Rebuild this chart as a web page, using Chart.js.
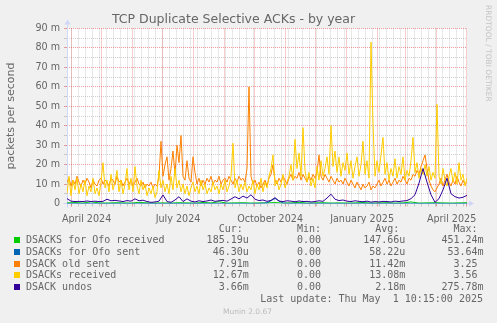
<!DOCTYPE html>
<html>
<head>
<meta charset="utf-8">
<title>TCP Duplicate Selective ACKs - by year</title>
<script src="https://cdn.jsdelivr.net/npm/chart.js@4"></script>
<style>
  html, body { margin: 0; padding: 0; background: #f0f0f0; }
  #wrap { position: relative; width: 497px; height: 323px; overflow: hidden; }
  #graph { position: absolute; left: 0; top: 0; }
  .line { position: absolute; white-space: pre; color: #666; font: 10px "DejaVu Sans Mono", monospace; line-height: 12px; }
  .swatch { position: absolute; width: 6px; height: 6px; }
  #stamp { position: absolute; left: 0; width: 495px; top: 307px; text-align: center; color: #bbb; font: 7.5px "DejaVu Sans", sans-serif; line-height: 10px; }
  #side { position: absolute; left: 483px; top: 5px; writing-mode: vertical-rl; color: #c4c4c4; font: 7.5px "DejaVu Sans", sans-serif; line-height: 10px; }
</style>
</head>
<body>
<div id="wrap">
  <canvas id="graph" width="497" height="323"></canvas>
  <div id="legend"></div>
  <div id="side">RRDTOOL / TOBI OETIKER</div>
  <div id="stamp">Munin 2.0.67</div>
</div>
<script>
// series, colours and the numbers printed in the table under the graph
const seriesNames = ['DSACKS for Ofo received', 'DSACKs for Ofo sent', 'DSACK old sent', 'DSACKs received', 'DSACK undos'];
const seriesColors = ['#00CC00', '#0066B3', '#FF8000', '#FFCC00', '#330099'];
const curText = ['185.19u', '46.30u', '7.91m', '12.67m', '3.66m'];
const minText = ['0.00', '0.00', '0.00', '0.00', '0.00'];
const avgText = ['147.66u', '58.22u', '11.42m', '13.08m', '2.18m'];
const maxText = ['451.24m', '53.64m', '3.25', '3.56', '275.78m'];

// y axis, in milli-packets per second
const yTickValues = [0, 10, 20, 30, 40, 50, 60, 70, 80, 90];
const yTickLabels = ['0', '10 m', '20 m', '30 m', '40 m', '50 m', '60 m', '70 m', '80 m', '90 m'];
const yMinorValues = [5, 15, 25, 35, 45, 55, 65, 75, 85];

// x axis: 400 days ending Thu May 1 2025 10:15
const xTickLabels = ['April 2024', 'July 2024', 'October 2024', 'January 2025', 'April 2025'];
const xLabelMonths = [[2024, 3], [2024, 6], [2024, 9], [2025, 0], [2025, 3]];

// samples (milli) - orange and yellow every 2 days, purple every 4, green/blue every 8
const oldSent = [
  11, 13, 9, 12, 10, 14, 11, 9, 12, 10, 13, 11, 8, 12, 10, 9, 12, 13, 10, 12,
  11, 9, 13, 12, 10, 14, 11, 12, 9, 11, 13, 10, 12, 9, 11, 13, 10, 9, 11, 8,
  10, 9, 11, 8, 10, 9, 14, 32, 14, 20, 24, 12, 18, 27, 15, 30, 21, 35, 14, 12,
  22, 13, 11, 24, 16, 10, 13, 9, 12, 10, 13, 11, 14, 10, 12, 11, 14, 10, 12, 13,
  11, 14, 12, 10, 13, 11, 14, 12, 13, 11, 18, 60, 14, 10, 12, 9, 11, 8, 10, 12,
  9, 13, 15, 20, 12, 10, 13, 11, 14, 12, 10, 13, 15, 12, 14, 13, 16, 12, 15, 13,
  11, 14, 12, 15, 13, 16, 25, 14, 12, 15, 13, 11, 14, 12, 10, 13, 11, 12, 10, 13,
  11, 9, 12, 10, 8, 11, 9, 7, 10, 8, 9, 11, 7, 9, 8, 10, 12, 9, 11, 13,
  10, 12, 9, 11, 13, 10, 12, 11, 14, 12, 10, 13, 12, 15, 14, 17, 15, 19, 22, 25,
  18, 12, 9, 7, 6, 8, 10, 13, 9, 12, 15, 11, 9, 12, 10, 14, 11, 9, 12, 10,
  11
];
const received = [
  5, 14, 4, 12, 7, 13, 5, 10, 6, 12, 4, 9, 6, 13, 5, 8, 4, 11, 21, 8,
  12, 6, 15, 7, 11, 17, 6, 12, 5, 10, 18, 7, 13, 6, 19, 9, 5, 12, 7, 10,
  4, 8, 5, 9, 3, 6, 17, 8, 12, 6, 10, 5, 14, 7, 18, 8, 12, 6, 10, 5,
  9, 4, 8, 11, 6, 9, 5, 12, 7, 10, 5, 8, 6, 11, 7, 9, 5, 10, 7, 12,
  6, 9, 14, 31, 8, 12, 6, 10, 7, 11, 6, 9, 7, 12, 5, 10, 7, 13, 6, 11,
  8, 14, 18, 25, 9, 12, 7, 10, 15, 8, 11, 14, 20, 12, 33, 18, 26, 14, 39, 17,
  11, 16, 9, 13, 8, 19, 12, 22, 14, 18, 24, 15, 40, 19, 27, 16, 24, 14, 21, 17,
  26, 15, 22, 13, 19, 24, 14, 20, 32, 15, 22, 13, 83, 41, 14, 22, 16, 25, 34, 15,
  21, 12, 18, 14, 23, 13, 19, 15, 24, 12, 17, 14, 22, 34, 16, 21, 13, 18, 15, 20,
  14, 19, 12, 16, 13, 51, 14, 10, 18, 12, 9, 14, 18, 11, 16, 10, 21, 12, 15, 9,
  13
];
const undos = [
  2.5, 1.2, 1.0, 1.1, 1.0, 1.3, 1.0, 1.2, 1.0, 1.1, 2.2, 1.4, 1.6, 1.3, 1.0, 1.5, 1.2, 2.4, 1.4, 1.7,
  1.0, 0.6, 0.8, 1.2, 4.4, 1.0, 0.6, 1.8, 3.5, 1.0, 2.4, 1.2, 0.8, 1.4, 1.0, 1.3, 1.8, 1.1, 1.4, 1.6,
  1.2, 2.3, 3.5, 2.4, 3.8, 2.8, 4.5, 2.2, 1.5, 1.8, 1.1, 1.6, 3.0, 1.2, 1.0, 1.4, 1.2, 0.9, 1.3, 1.0,
  1.1, 0.8, 1.0, 1.4, 1.1, 2.8, 4.8, 2.2, 1.5, 1.8, 1.2, 1.0, 1.4, 1.1, 0.9, 1.2, 0.7, 1.0, 0.8, 1.1,
  1.0, 0.8, 1.2, 1.0, 1.3, 1.5, 2.5, 4.5, 10.5, 18, 11, 4.5, 0.6, 2.5, 7, 13, 5, 3.5, 2.8, 3.2,
  4.2
];
const ofoReceived = [
  0.3, 0.5, 0.2, 0.9, 0.3, 0.2, 0.4, 0.3, 0.2, 0.6, 0.3, 0.2, 0.3, 0.2, 0.4, 0.3, 0.2,
  0.5, 0.3, 0.9, 0.2, 0.3, 0.4, 0.2, 0.3, 0.3, 0.5, 0.2, 0.3, 0.6, 0.2, 0.3, 0.4, 0.2,
  0.3, 0.2, 0.3, 0.5, 0.2, 0.3, 0.4, 0.2, 0.3, 0.8, 0.2, 0.3, 0.4, 0.3, 0.2, 0.3, 0.4
];
const ofoSent = [
  0.05, 0.05, 0.05, 0.05, 0.05, 0.05, 0.05, 0.05, 0.05, 0.05, 0.05, 0.05, 0.05, 0.05, 0.05, 0.05, 0.05,
  0.05, 0.05, 0.05, 0.05, 0.05, 0.05, 0.05, 0.05, 0.3, 2.6, 0.2, 0.05, 0.05, 0.05, 0.05, 0.05, 0.05,
  0.05, 0.05, 0.05, 0.05, 0.05, 0.05, 0.05, 0.05, 0.05, 0.05, 0.05, 0.05, 0.05, 0.05, 0.05, 0.05, 0.05
];
const seriesData = [ofoReceived, ofoSent, oldSent, received, undos];
const seriesStep = [8, 8, 2, 2, 4];

const DAY = 86400000;
const start = Date.UTC(2024, 2, 27, 10, 15);
const dayOf = (y, m, d) => (Date.UTC(y, m, d) - start) / DAY;

// month boundaries (major grid), mondays (minor grid), mid-month label spots
const monthLines = [];
for (let y = 2024, m = 3; y < 2025 || m <= 4; m++) {
  if (m > 11) { m = 0; y++; }
  monthLines.push(dayOf(y, m, 1));
}
const weekLines = [];
for (let d = dayOf(2024, 3, 1); d < 400; d += 7) weekLines.push(d);
const labelDays = xLabelMonths.map(([y, m]) => (dayOf(y, m, 1) + dayOf(y, m + 1, 1)) / 2);

const majorGrid = 'rgba(222,79,79,0.55)';
const minorGrid = 'rgba(143,143,143,0.42)';
const axisColor = '#CFD6F8';
const fontColor = '#666666';

const plotBackground = {
  id: 'plotBackground',
  beforeDraw(chart) {
    const {ctx, chartArea: a} = chart;
    ctx.save();
    ctx.fillStyle = '#ffffff';
    ctx.fillRect(a.left, a.top, a.right - a.left, a.bottom - a.top);
    ctx.restore();
  }
};

// axis lines with their arrow heads
const axisArrows = {
  id: 'axisArrows',
  beforeDatasetsDraw(chart) {
    const {ctx, chartArea: a} = chart;
    const x0 = Math.round(a.left) + 0.5, y0 = Math.round(a.bottom) - 0.5;
    ctx.save();
    ctx.strokeStyle = axisColor;
    ctx.fillStyle = axisColor;
    ctx.lineWidth = 1;
    ctx.beginPath();
    ctx.moveTo(x0, y0 + 4);
    ctx.lineTo(x0, a.top - 4);
    ctx.moveTo(x0 - 4, y0);
    ctx.lineTo(a.right + 2, y0);
    ctx.stroke();
    ctx.beginPath();
    ctx.moveTo(x0, a.top - 9);
    ctx.lineTo(x0 - 3, a.top - 4);
    ctx.lineTo(x0 + 3, a.top - 4);
    ctx.closePath();
    ctx.fill();
    ctx.beginPath();
    ctx.moveTo(a.right + 7, y0);
    ctx.lineTo(a.right + 2, y0 - 3);
    ctx.lineTo(a.right + 2, y0 + 3);
    ctx.closePath();
    ctx.fill();
    ctx.restore();
  }
};

const tickFont = {family: 'DejaVu Sans', size: 9.6};

function gridScale(values, color, z, horizontal) {
  return {
    type: 'linear',
    position: horizontal ? 'bottom' : 'left',
    min: 0,
    max: horizontal ? 400 : 90,
    weight: 0,
    z: z,
    afterBuildTicks: s => { s.ticks = values.map(v => ({value: v})); },
    afterFit: s => { if (horizontal) s.height = 0; else s.width = 0; },
    ticks: {display: false, autoSkip: false},
    grid: {color: color, tickColor: color, lineWidth: 1, drawTicks: true, tickLength: 3},
    border: {display: false, dash: [1, 1]}
  };
}

const datasets = seriesNames.map((name, i) => ({
  label: name,
  data: seriesData[i].map((v, k) => ({x: k * seriesStep[i], y: v})),
  borderColor: seriesColors[i],
  borderWidth: 1,
  pointRadius: 0,
  tension: 0,
  fill: false,
  order: seriesNames.length - i
}));

new Chart(document.getElementById('graph'), {
  type: 'line',
  data: {datasets},
  options: {
    responsive: false,
    devicePixelRatio: 1,
    animation: false,
    events: [],
    layout: {padding: {left: 0, right: 30, top: 0, bottom: 99.5}},
    plugins: {
      legend: {display: false},
      tooltip: {enabled: false},
      title: {
        display: true,
        text: 'TCP Duplicate Selective ACKs - by year',
        color: fontColor,
        font: {family: 'DejaVu Sans', size: 12.5, weight: 'normal', lineHeight: 1.2},
        padding: {top: 12, bottom: 1.5}
      }
    },
    scales: {
      xMinor: gridScale(weekLines, minorGrid, -2, true),
      x: gridScale(monthLines, majorGrid, -1, true),
      xLab: {
        type: 'linear',
        position: 'bottom',
        min: 0,
        max: 400,
        weight: 1,
        afterBuildTicks: s => { s.ticks = labelDays.map(v => ({value: v})); },
        afterFit: s => { s.height = 20; },
        grid: {display: false},
        border: {display: false},
        ticks: {
          autoSkip: false,
          maxRotation: 0,
          padding: 2.5,
          color: fontColor,
          font: tickFont,
          callback: (v, i) => xTickLabels[i]
        }
      },
      yMinor: gridScale(yMinorValues, minorGrid, -2, false),
      y: {
        type: 'linear',
        position: 'left',
        min: 0,
        max: 90,
        weight: 1,
        z: -1,
        afterBuildTicks: s => { s.ticks = yTickValues.map(v => ({value: v})); },
        afterFit: s => { s.width = 67; },
        grid: {color: majorGrid, tickColor: majorGrid, lineWidth: 1, drawTicks: true, tickLength: 3},
        border: {display: false, dash: [1, 1]},
        ticks: {
          autoSkip: false,
          padding: 4,
          color: fontColor,
          font: tickFont,
          callback: (v, i) => yTickLabels[i]
        },
        title: {
          display: true,
          text: 'packets per second',
          color: fontColor,
          font: {family: 'DejaVu Sans', size: 11, lineHeight: 1.2},
          padding: {top: 5, bottom: 0}
        }
      }
    }
  },
  plugins: [plotBackground, axisArrows]
});

// table under the graph, laid out in fixed-width columns
const legend = document.getElementById('legend');
const withUnit = s => (/[a-zA-Z]$/.test(s) ? s : s + ' ');
function addLine(text, top, extra) {
  const div = document.createElement('div');
  div.className = 'line';
  div.textContent = text;
  div.style.top = top + 'px';
  Object.assign(div.style, extra || {left: '26px'});
  legend.appendChild(div);
}
addLine(' '.repeat(32) + 'Cur:' + ' '.repeat(9) + 'Min:' + ' '.repeat(9) + 'Avg:' + ' '.repeat(9) + 'Max:', 223);
seriesNames.forEach((name, i) => {
  const top = 234 + i * 11.8;
  const row = name.padEnd(24) + withUnit(curText[i]).padStart(13) + withUnit(minText[i]).padStart(13) +
    withUnit(avgText[i]).padStart(13) + withUnit(maxText[i]).padStart(13);
  addLine(row, top);
  const sw = document.createElement('div');
  sw.className = 'swatch';
  sw.style.left = '14px';
  sw.style.top = (top + 3) + 'px';
  sw.style.background = seriesColors[i];
  legend.appendChild(sw);
});
addLine('Last update: Thu May  1 10:15:00 2025', 293, {right: '14px', textAlign: 'right'});
</script>
</body>
</html>
